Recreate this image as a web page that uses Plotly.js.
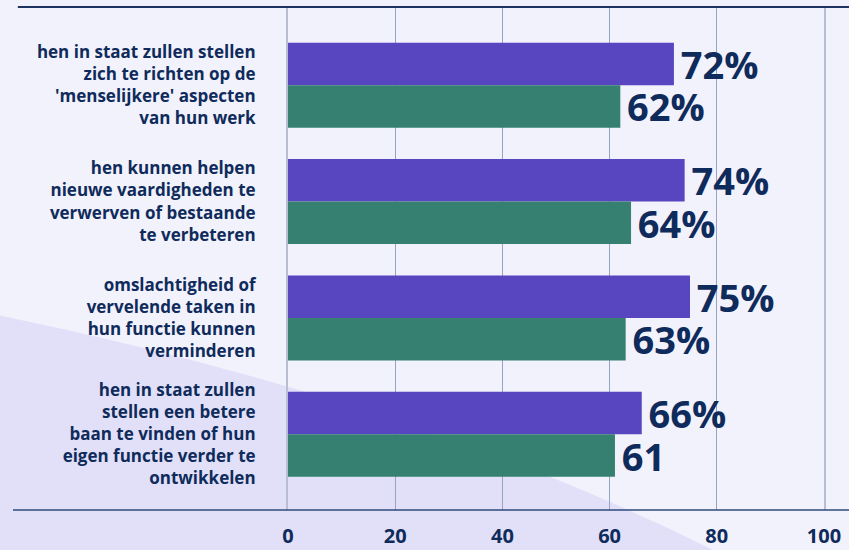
<!DOCTYPE html>
<html>
<head>
<meta charset="utf-8">
<script src="https://cdn.plot.ly/plotly-3.0.1.min.js"></script>
<style>html,body{margin:0;padding:0;background:#f2f2fd;}#chart{width:849px;height:550px;}</style>
</head>
<body>
<div id="chart"></div>
<script>
const categories = [
  "hen in staat zullen stellen<br>zich te richten op de<br>'menselijkere' aspecten<br>van hun werk",
  "hen kunnen helpen<br>nieuwe vaardigheden te<br>verwerven of bestaande<br>te verbeteren",
  "omslachtigheid of<br>vervelende taken in<br>hun functie kunnen<br>verminderen",
  "hen in staat zullen<br>stellen een betere<br>baan te vinden of hun<br>eigen functie verder te<br>ontwikkelen"
];
const seriesA = [72, 74, 75, 66];
const seriesB = [62, 64, 63, 61];
const labelsA = ["72%", "74%", "75%", "66%"];
const labelsB = ["62%", "64%", "63%", "61"];
const xTicks = [0, 20, 40, 60, 80, 100];

const navy = "#0f2b5b";
const valueFont = {family: "Open Sans, sans-serif", size: 38, color: navy, weight: 700};

const traces = [
  {type: "bar", orientation: "h", y: categories, x: seriesA, text: labelsA,
   texttemplate: "\u200a%{text}",
   textposition: "outside", constraintext: "none", cliponaxis: false,
   textfont: valueFont, marker: {color: "#5746c0"}, hoverinfo: "skip"},
  {type: "bar", orientation: "h", y: categories, x: seriesB, text: labelsB,
   texttemplate: "\u200a%{text}",
   textposition: "outside", constraintext: "none", cliponaxis: false,
   textfont: valueFont, marker: {color: "#358070"}, hoverinfo: "skip"}
];

const layout = {
  width: 849, height: 550,
  margin: {l: 288, r: 25, t: 7, b: 40, pad: 0},
  paper_bgcolor: "#f2f2fd",
  plot_bgcolor: "rgba(0,0,0,0)",
  showlegend: false,
  barmode: "group",
  bargap: 0.27,
  bargroupgap: 0,
  font: {family: "Open Sans, sans-serif", color: navy},
  xaxis: {
    range: [0, 100], tickvals: xTicks, ticktext: xTicks.map(String),
    showgrid: true, gridcolor: "#97a3c2", gridwidth: 1,
    zeroline: false, showline: false, ticks: "",
    ticklabelstandoff: 12,
    tickfont: {family: "Open Sans, sans-serif", size: 20, color: navy, weight: 700},
    fixedrange: true
  },
  yaxis: {
    type: "category", categoryorder: "array", categoryarray: categories,
    range: [3.65, -0.672],
    showgrid: false, zeroline: false,
    showline: true, mirror: true, linecolor: "#b8bdd3", linewidth: 2,
    ticks: "", ticklabelstandoff: 27,
    tickfont: {family: "Open Sans, sans-serif", size: 17, color: navy, weight: 700},
    fixedrange: true
  },
  shapes: [
    {type: "path", xref: "paper", yref: "paper", layer: "below",
     path: "M -0.56,0.3917 Q 0.2313,0.2197 0.793,-0.0795 L -0.56,-0.0795 Z",
     fillcolor: "#e1e0f8", line: {width: 0}},
    {type: "line", xref: "paper", yref: "paper", x0: -0.504, x1: 1.05, y0: 1, y1: 1,
     line: {color: "#1d3461", width: 2}},
    {type: "line", xref: "paper", yref: "paper", x0: -0.513, x1: 1.05, y0: 0, y1: 0,
     line: {color: "#2c4a7a", width: 1.5}}
  ]
};

Plotly.newPlot("chart", traces, layout, {displayModeBar: false, staticPlot: true});
</script>
</body>
</html>
